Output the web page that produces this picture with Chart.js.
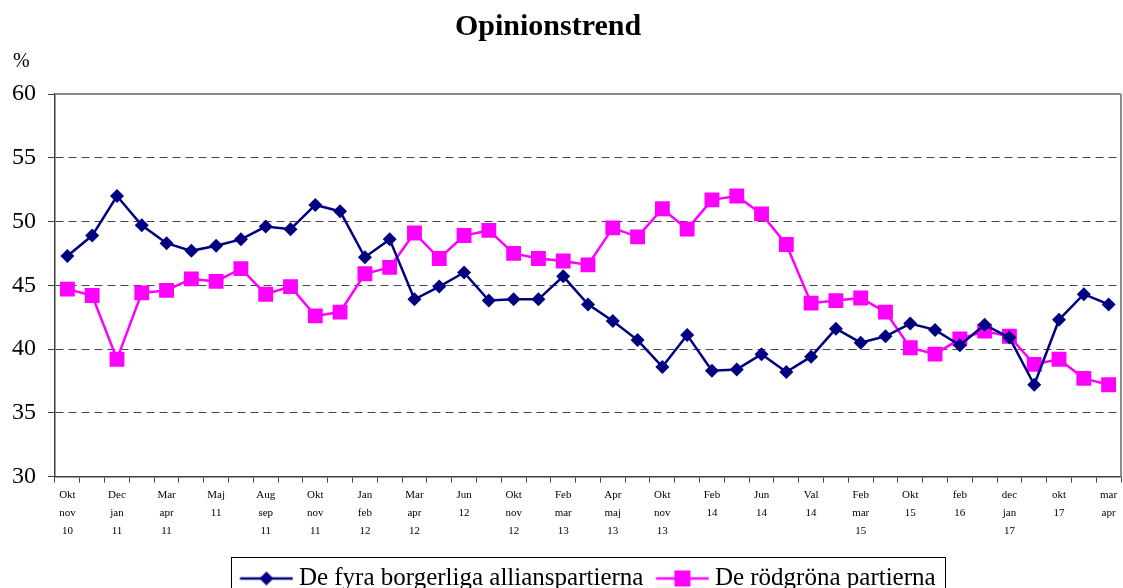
<!DOCTYPE html>
<html>
<head>
<meta charset="utf-8">
<title>Opinionstrend</title>
<script src="https://cdn.jsdelivr.net/npm/chart.js@4/dist/chart.umd.min.js"></script>
<style>
    html, body { margin: 0; padding: 0; background: #fff; }
    #wrap { width: 1123px; height: 588px; }
</style>
</head>
<body>
<div id="wrap"><canvas id="chart" width="1123" height="588"></canvas></div>
<script>
"use strict";

// x-axis labels, one per survey (blank where the original leaves no label)
const periods = [
    ["Okt", "nov", "10"], "", ["Dec", "jan", "11"], "", ["Mar", "apr", "11"], "",
    ["Maj", "11"], "", ["Aug", "sep", "11"], "", ["Okt", "nov", "11"], "",
    ["Jan", "feb", "12"], "", ["Mar", "apr", "12"], "", ["Jun", "12"], "",
    ["Okt", "nov", "12"], "", ["Feb", "mar", "13"], "", ["Apr", "maj", "13"], "",
    ["Okt", "nov", "13"], "", ["Feb", "14"], "", ["Jun", "14"], "",
    ["Val", "14"], "", ["Feb", "mar", "15"], "", ["Okt", "15"], "",
    ["feb", "16"], "", ["dec", "jan", "17"], "", ["okt", "17"], "",
    ["mar", "apr"]
];

const alliansen = [
    47.3, 48.9, 52.0, 49.7, 48.3, 47.7, 48.1, 48.6, 49.6, 49.4, 51.3,
    50.8, 47.2, 48.6, 43.9, 44.9, 46.0, 43.8, 43.9, 43.9, 45.7, 43.5,
    42.2, 40.7, 38.6, 41.1, 38.3, 38.4, 39.6, 38.2, 39.4, 41.6, 40.5,
    41.0, 42.0, 41.5, 40.3, 41.9, 40.9, 37.2, 42.3, 44.3, 43.5
];

const rodgrona = [
    44.7, 44.2, 39.2, 44.4, 44.6, 45.5, 45.3, 46.3, 44.3, 44.9, 42.6,
    42.9, 45.9, 46.4, 49.1, 47.1, 48.9, 49.3, 47.5, 47.1, 46.9, 46.6,
    49.5, 48.8, 51.0, 49.4, 51.7, 52.0, 50.6, 48.2, 43.6, 43.8, 44.0,
    42.9, 40.1, 39.6, 40.8, 41.4, 41.0, 38.8, 39.2, 37.7, 37.2
];

const yTicks = [30, 35, 40, 45, 50, 55, 60];

const NAVY = "#000080";
const PINK = "#FF00FF";
const SERIF = "'Liberation Serif', 'Times New Roman', serif";

// legend swatch: a short line with the marker in the middle
function legendSwatch(color, style) {
    const c = document.createElement("canvas");
    c.width = 60;
    c.height = 22;
    const ctx = c.getContext("2d");
    const x0 = 6.5, x1 = 59.5, mid = (x0 + x1) / 2, cy = 11;
    ctx.strokeStyle = color;
    ctx.lineWidth = 2.5;
    ctx.beginPath();
    ctx.moveTo(x0, cy);
    ctx.lineTo(x1, cy);
    ctx.stroke();
    ctx.fillStyle = color;
    ctx.beginPath();
    if (style === "diamond") {
        ctx.moveTo(mid, cy - 7);
        ctx.lineTo(mid + 7, cy);
        ctx.lineTo(mid, cy + 7);
        ctx.lineTo(mid - 7, cy);
    } else {
        ctx.rect(mid - 8, cy - 8, 16, 16);
    }
    ctx.closePath();
    ctx.fill();
    return c;
}

const frame = {
    id: "frame",
    afterDraw(chart) {
        const { ctx, chartArea: a } = chart;
        ctx.save();
        // top and right edge of the plot area
        ctx.strokeStyle = "#8c8c8c";
        ctx.lineWidth = 2;
        ctx.beginPath();
        ctx.moveTo(a.left, a.top);
        ctx.lineTo(a.right, a.top);
        ctx.moveTo(a.right, a.top);
        ctx.lineTo(a.right, a.bottom);
        ctx.stroke();

        ctx.fillStyle = "#000";
        ctx.textBaseline = "middle";

        // heading, placed as in the original (a little left of centre)
        ctx.font = "bold 30px " + SERIF;
        ctx.textAlign = "center";
        ctx.fillText("Opinionstrend", 548, 27);

        // unit label above the y axis
        ctx.font = "20px " + SERIF;
        ctx.textAlign = "left";
        ctx.fillText("%", 13, 62);

        // box round the legend
        const boxes = chart.legend.legendHitBoxes;
        if (boxes.length) {
            const first = boxes[0];
            const last = boxes[boxes.length - 1];
            const x0 = first.left - 9;
            const x1 = last.left + last.width + 10;
            const y0 = first.top - 9;
            ctx.strokeStyle = "#000";
            ctx.lineWidth = 1;
            ctx.strokeRect(Math.round(x0) + 0.5, Math.round(y0) + 0.5, Math.round(x1 - x0), 60);
        }
        ctx.restore();
    }
};

new Chart(document.getElementById("chart").getContext("2d"), {
    type: "line",
    data: {
        labels: periods,
        datasets: [
            {
                label: "De fyra borgerliga allianspartierna",
                data: alliansen,
                borderColor: NAVY,
                backgroundColor: NAVY,
                borderWidth: 2.5,
                pointStyle: "rectRot",
                pointRadius: 7,
                pointHoverRadius: 7,
                pointBorderWidth: 0,
                tension: 0
            },
            {
                label: "De rödgröna partierna",
                data: rodgrona,
                borderColor: PINK,
                backgroundColor: PINK,
                borderWidth: 2.5,
                pointStyle: "rect",
                pointRadius: 10.5,
                pointHoverRadius: 10.5,
                pointBorderWidth: 0,
                tension: 0
            }
        ]
    },
    options: {
        responsive: false,
        animation: false,
        layout: {
            autoPadding: false,
            padding: { left: 0, right: 2, top: 94, bottom: -13 }
        },
        plugins: {
            title: { display: false },
            legend: {
                position: "bottom",
                fullSize: false,
                labels: {
                    color: "#000",
                    font: { family: SERIF, size: 25 },
                    usePointStyle: true,
                    pointStyleWidth: 46,
                    padding: 13,
                    generateLabels(chart) {
                        const styles = ["diamond", "square"];
                        return chart.data.datasets.map((ds, i) => ({
                            text: ds.label,
                            pointStyle: legendSwatch(ds.borderColor, styles[i]),
                            fillStyle: ds.borderColor,
                            strokeStyle: ds.borderColor,
                            lineWidth: 0,
                            fontColor: "#000",
                            datasetIndex: i
                        }));
                    }
                }
            },
            tooltip: { enabled: false }
        },
        scales: {
            x: {
                offset: true,
                afterFit(axis) {
                    // leave room between the period labels and the legend
                    axis.height += 10;
                },
                grid: {
                    offset: true,
                    drawOnChartArea: false,
                    drawTicks: true,
                    tickLength: 6,
                    tickColor: "#404040",
                    tickWidth: 1
                },
                border: { color: "#404040", width: 1.5 },
                ticks: {
                    autoSkip: false,
                    maxRotation: 0,
                    minRotation: 0,
                    padding: 3,
                    color: "#000",
                    font: { family: SERIF, size: 11, lineHeight: 1.65 }
                }
            },
            y: {
                min: 30,
                max: 60,
                afterBuildTicks(axis) {
                    axis.ticks = yTicks.map(v => ({ value: v }));
                },
                grid: {
                    color: ctx => (ctx.tick && (ctx.tick.value === 30 || ctx.tick.value === 60))
                        ? "rgba(0,0,0,0)" : "#454545",
                    lineWidth: 1,
                    tickLength: 7,
                    tickColor: "#404040"
                },
                border: { color: "#404040", width: 1.5, dash: [8, 5] },
                ticks: {
                    padding: 12,
                    color: "#000",
                    font: { family: SERIF, size: 24 }
                }
            }
        }
    },
    plugins: [frame]
});
</script>
</body>
</html>
